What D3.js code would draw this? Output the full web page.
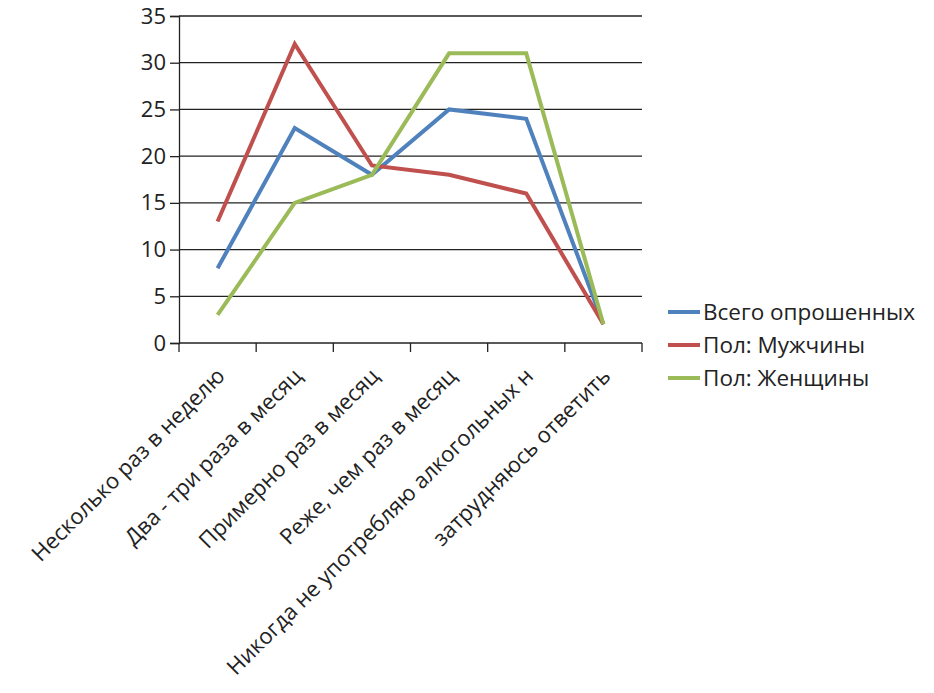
<!DOCTYPE html>
<html>
<head>
<meta charset="utf-8">
<script src="https://cdn.jsdelivr.net/npm/d3@7"></script>
<style>
  body { margin: 0; background: #fff; }
  text { font-family: "Open Sans", "DejaVu Sans", sans-serif; fill: #222; }
</style>
</head>
<body>
<svg id="chart" width="934" height="693"></svg>
<script>
// Donnees.
const categories = [
    "Несколько раз в неделю",
    "Два - три раза в месяц",
    "Примерно раз в месяц",
    "Реже, чем раз в месяц",
    "Никогда не употребляю алкогольных н",
    "затрудняюсь ответить"
];
const seriesNames = ["Всего опрошенных", "Пол: Мужчины", "Пол: Женщины"];
const totalValues = [8, 23, 18, 25, 24, 2];
const menValues = [13, 32, 19, 18, 16, 2];
const womenValues = [3, 15, 18, 31, 31, 2];
const yTicks = [0, 5, 10, 15, 20, 25, 30, 35];

const colors = ["#4F81BD", "#C0504D", "#9BBB59"];
const series = [totalValues, menValues, womenValues].map(function(values, i) {
    return { name: seriesNames[i], values: values, color: colors[i] };
});

const svg = d3.select("#chart");
const plotLeft = 179, plotRight = 642, plotTop = 16, plotBottom = 343;

const x = d3.scaleBand().domain(categories).range([plotLeft, plotRight]);
const y = d3.scaleLinear().domain([0, 35]).range([plotBottom, plotTop]);

// Lignes de grille horizontales.
svg.append("g")
    .selectAll("line")
    .data(yTicks.filter(function(d) { return d > 0; }))
    .enter()
    .append("line")
    .attr("x1", plotLeft)
    .attr("x2", plotRight)
    .attr("y1", function(d) { return y(d); })
    .attr("y2", function(d) { return y(d); })
    .attr("stroke", "#222")
    .attr("stroke-width", 1.3);

// Axe Y.
const yAxis = svg.append("g")
    .attr("transform", "translate(" + plotLeft + ",0)")
    .call(d3.axisLeft(y).tickValues(yTicks).tickSize(9).tickPadding(4));
yAxis.selectAll("text").style("font-size", "22px").attr("fill", "#222");
yAxis.selectAll("line, path").attr("stroke", "#222").attr("stroke-width", 1.3);

// Axe X avec ticks aux limites des categories.
const xAxisG = svg.append("g").attr("class", "x-axis");
xAxisG.append("line")
    .attr("x1", plotLeft).attr("x2", plotRight)
    .attr("y1", plotBottom).attr("y2", plotBottom)
    .attr("stroke", "#222").attr("stroke-width", 1.3);
const boundaries = categories.map(function(c) { return x(c); }).concat([plotRight]);
xAxisG.selectAll(".xtick")
    .data(boundaries)
    .enter()
    .append("line")
    .attr("x1", function(d) { return d; })
    .attr("x2", function(d) { return d; })
    .attr("y1", plotBottom)
    .attr("y2", plotBottom + 9)
    .attr("stroke", "#222").attr("stroke-width", 1.3);

xAxisG.selectAll(".xlabel")
    .data(categories)
    .enter()
    .append("text")
    .attr("transform", function(d) {
        const cx = x(d) + x.bandwidth() / 2 + 3;
        return "translate(" + cx + "," + 372 + ") rotate(-45)";
    })
    .attr("text-anchor", "end")
    .attr("dy", "0.35em")
    .style("font-size", "22px")
    .text(function(d) { return d; });

// Courbes.
const line = d3.line()
    .x(function(d, i) { return x(categories[i]) + x.bandwidth() / 2; })
    .y(function(d) { return y(d); });

svg.append("g")
    .selectAll("path")
    .data(series)
    .enter()
    .append("path")
    .attr("d", function(d) { return line(d.values); })
    .attr("fill", "none")
    .attr("stroke", function(d) { return d.color; })
    .attr("stroke-width", 4)
    .attr("stroke-linejoin", "miter");

// Legende.
const legend = svg.append("g")
    .selectAll("g")
    .data(series)
    .enter()
    .append("g")
    .attr("transform", function(d, i) { return "translate(668," + (312 + i * 33) + ")"; });
legend.append("line")
    .attr("x1", 0).attr("x2", 32)
    .attr("stroke", function(d) { return d.color; })
    .attr("stroke-width", 4);
legend.append("text")
    .attr("x", 35)
    .attr("dy", "0.35em")
    .style("font-size", "22.5px")
    .text(function(d) { return d.name; });
</script>
</body>
</html>
